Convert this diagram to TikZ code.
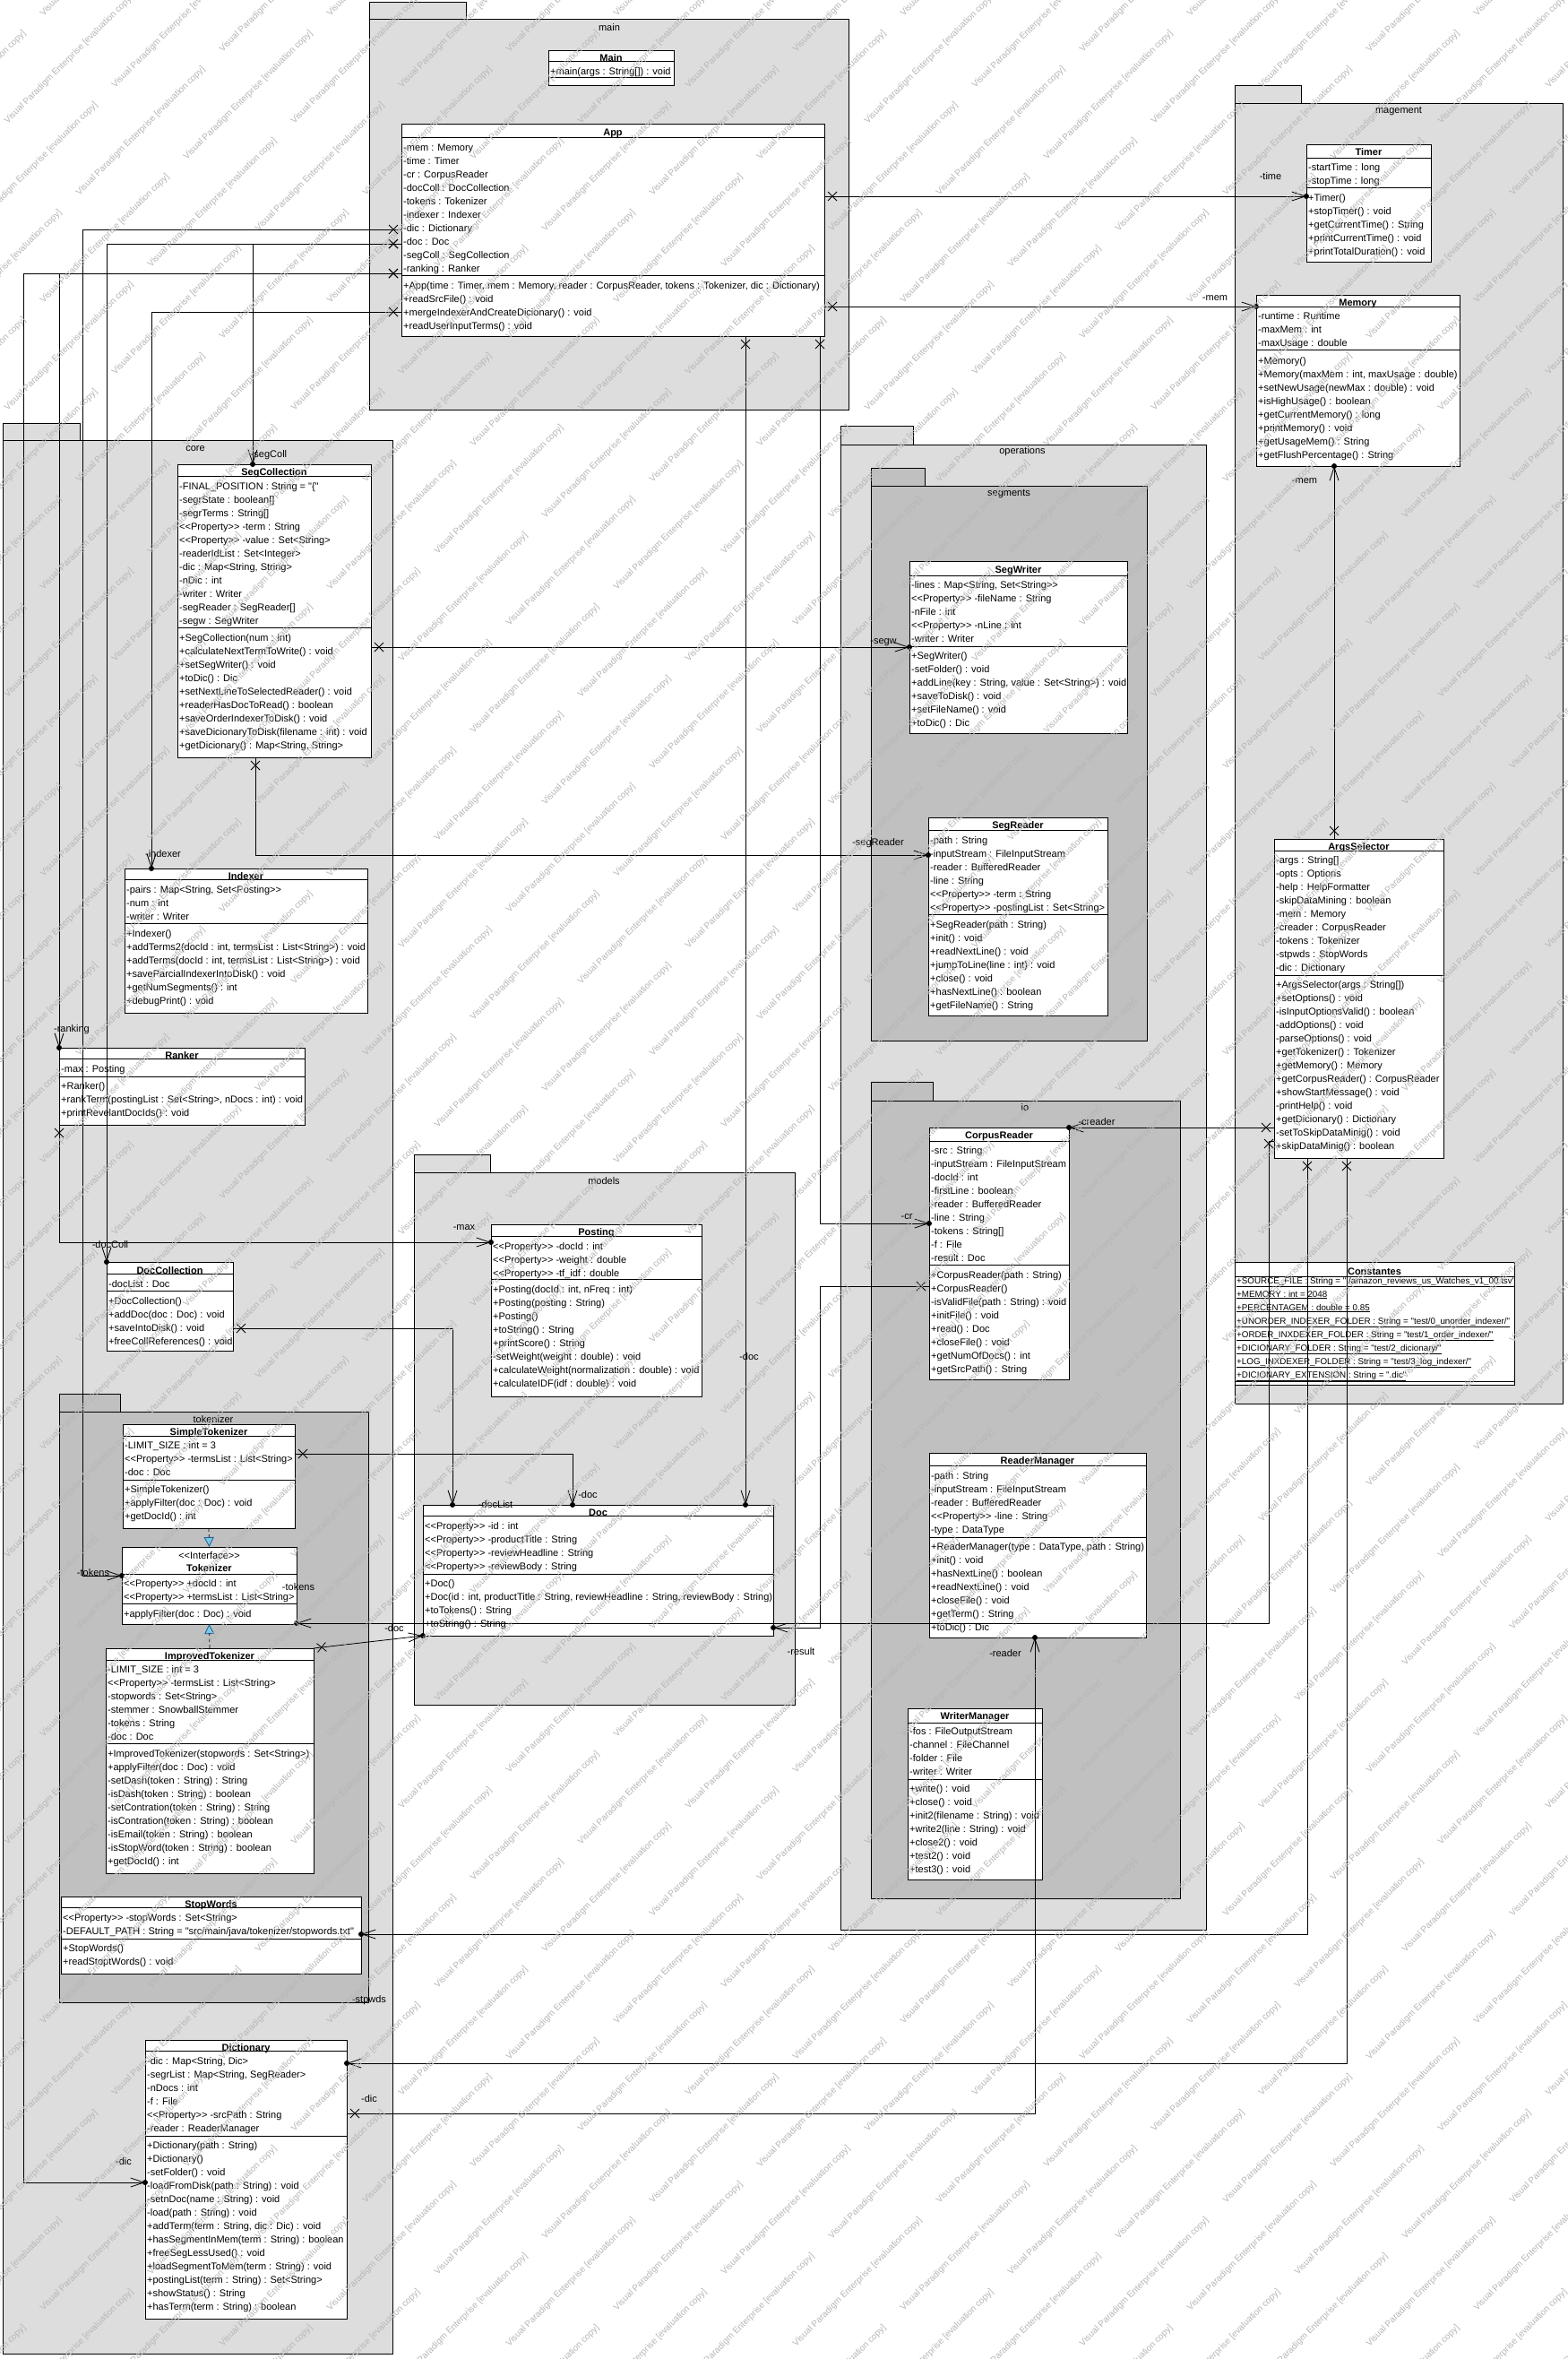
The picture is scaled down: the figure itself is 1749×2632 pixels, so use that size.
\documentclass[tikz,border=0pt]{standalone}
\usepackage{fontspec}
\newfontfamily\umlfont{Liberation Sans}
\usetikzlibrary{arrows.meta,decorations.markings}
\definecolor{pkglight}{RGB}{221,221,221}
\definecolor{pkgdark}{RGB}{192,192,192}
\definecolor{realfill}{RGB}{120,200,230}
\definecolor{realline}{RGB}{30,90,140}
\definecolor{wmark}{RGB}{182,182,182}

% class box: name, x1, y1, x2, y2 (pixel grid, y down)
\newcommand\umlbox[5]{\node[clsbox,minimum width={#4-#2},minimum height={#5-#3}] (#1) at (#2,#3) {};}
% compartment line of a class at height y
\newcommand\cdiv[2]{\draw[boxline] (#1.west |- 0,#2) -- (#1.east |- 0,#2);}
% rows of a compartment: prefix, x, first baseline, list
\newcommand\rowsat[4]{\foreach \t [count=\i] in {#4} {\node[row] (#1\i) at (#2,{#3+15*(\i-1)}) {\t};}}

\begin{document}
\begin{tikzpicture}[x=1pt,y=-1pt,
  clsbox/.style={draw,fill=white,line width=0.8pt,anchor=north west,inner sep=0pt,outer sep=0pt},
  boxline/.style={line width=0.8pt},
  row/.style={anchor=base west,inner sep=0pt,font=\umlfont\fontsize{11}{13}\selectfont},
  ttl/.style={anchor=base,inner sep=0pt,font=\umlfont\bfseries\fontsize{11}{13}\selectfont},
  pkgbox/.style={draw,line width=0.8pt},
  pkgname/.style={inner sep=0pt,font=\umlfont\fontsize{11}{13}\selectfont},
  role/.style={inner sep=0pt,font=\umlfont\fontsize{11}{13}\selectfont},
  assoc/.style={line width=0.8pt,-{Straight Barb[length=15pt,width=10pt]},
    postaction={decorate,decoration={markings,
      mark=at position 9pt with {\draw[line width=0.8pt,-] (-5pt,-5pt) -- (5pt,5pt) (-5pt,5pt) -- (5pt,-5pt);},
      mark=at position -0.01pt with {\fill (0pt,0pt) circle (3pt);}}}},
  realize/.style={line width=0.8pt,dash pattern=on 4pt off 3pt,
    -{Triangle[length=11pt,width=11pt,color=realline,fill=realfill]}},
  wm/.style={anchor=south west,rotate=45,inner sep=0pt,text=wmark,font=\umlfont\fontsize{10}{12}\selectfont}]
  \useasboundingbox (0,0) rectangle (1749,2632);
  \clip (0,0) rectangle (1749,2632);
  \fill[white] (0,0) rectangle (1749,2632);

  % packages
  \draw[pkgbox,fill=pkglight] (412,2) rectangle (520,21) (412,21) rectangle (947,457);
  \node[pkgname] (pMain) at (680,31) {main};
  \draw[pkgbox,fill=pkglight] (1378,95) rectangle (1452,115) (1378,115) rectangle (1744,1566);
  \node[pkgname] (pMgmt) at (1561,124) {magement};
  \draw[pkgbox,fill=pkglight] (3,472) rectangle (89,491) (3,491) rectangle (438,2626);
  \node[pkgname] (pCore) at (218,501) {core};
  \draw[pkgbox,fill=pkglight] (938,475) rectangle (1019,496) (938,496) rectangle (1346,2153);
  \node[pkgname] (pOps) at (1141,504) {operations};
  \draw[pkgbox,fill=pkgdark] (972,522) rectangle (1032,542) (972,542) rectangle (1280,1161);
  \node[pkgname] (pSeg) at (1126,551) {segments};
  \draw[pkgbox,fill=pkgdark] (972,1207) rectangle (1041,1228) (972,1228) rectangle (1317,2118);
  \node[pkgname] (pIo) at (1144,1236) {io};
  \draw[pkgbox,fill=pkglight] (462,1288) rectangle (547,1308) (462,1308) rectangle (887,1902);
  \node[pkgname] (pModels) at (674,1318) {models};
  \draw[pkgbox,fill=pkgdark] (66,1555) rectangle (134,1575) (66,1575) rectangle (411,2234);
  \node[pkgname] (pTok) at (238,1584) {tokenizer};

  % main
  \umlbox{Main}{612}{56}{752}{95}
  \node[ttl] (Main-t) at (Main.north |- 0,68) {Main};
  \cdiv{Main}{68}
  \rowsat{Main-m}{614}{83}{{\underline{+main(args : String[]) : void}}}

  \umlbox{App}{448}{138}{920}{375}
  \node[ttl] (App-t) at (App.north |- 0,151) {App};
  \cdiv{App}{153} \cdiv{App}{307}
  \rowsat{App-a}{450}{168}{-mem : Memory, -time : Timer, -cr : CorpusReader, -docColl : DocCollection,
    -tokens : Tokenizer, -indexer : Indexer, -dic : Dictionary, -doc : Doc, -segColl : SegCollection, -ranking : Ranker}
  \rowsat{App-m}{450}{322}{{+App(time : Timer, mem : Memory, reader : CorpusReader, tokens : Tokenizer, dic : Dictionary)},
    +readSrcFile() : void, +mergeIndexerAndCreateDicionary() : void, +readUserInputTerms() : void}

  % management
  \umlbox{Timer}{1458}{161}{1597}{292}
  \node[ttl] (Timer-t) at (Timer.north |- 0,173) {Timer};
  \cdiv{Timer}{176} \cdiv{Timer}{209}
  \rowsat{Timer-a}{1460}{190}{-startTime : long, -stopTime : long}
  \rowsat{Timer-m}{1460}{224}{+Timer(), +stopTimer() : void, +getCurrentTime() : String, +printCurrentTime() : void,
    +printTotalDuration() : void}

  \umlbox{Memory}{1402}{329}{1629}{520}
  \node[ttl] (Memory-t) at (Memory.north |- 0,341) {Memory};
  \cdiv{Memory}{342} \cdiv{Memory}{390}
  \rowsat{Memory-a}{1404}{356}{-runtime : Runtime, -maxMem : int, -maxUsage : double}
  \rowsat{Memory-m}{1404}{406}{+Memory(), {+Memory(maxMem : int, maxUsage : double)}, +setNewUsage(newMax : double) : void,
    +isHighUsage() : boolean, +getCurrentMemory() : long, +printMemory() : void, +getUsageMem() : String,
    +getFlushPercentage() : String}

  \umlbox{ArgsSelector}{1422}{936}{1611}{1292}
  \node[ttl] (ArgsSelector-t) at (ArgsSelector.north |- 0,948) {ArgsSelector};
  \cdiv{ArgsSelector}{949} \cdiv{ArgsSelector}{1088}
  \rowsat{ArgsSelector-a}{1424}{963}{-args : String[], -opts : Options, -help : HelpFormatter, -skipDataMining : boolean,
    -mem : Memory, -creader : CorpusReader, -tokens : Tokenizer, -stpwds : StopWords, -dic : Dictionary}
  \rowsat{ArgsSelector-m}{1424}{1102}{+ArgsSelector(args : String[]), +setOptions() : void, -isInputOptionsValid() : boolean,
    -addOptions() : void, -parseOptions() : void, +getTokenizer() : Tokenizer, +getMemory() : Memory,
    +getCorpusReader() : CorpusReader, +showStartMessage() : void, -printHelp() : void, +getDicionary() : Dictionary,
    -setToSkipDataMinig() : void, +skipDataMinig() : boolean}

  \umlbox{Constantes}{1378}{1408}{1690}{1545}
  \node[ttl] (Constantes-t) at (Constantes.north |- 0,1422) {Constantes};
  \cdiv{Constantes}{1424} \cdiv{Constantes}{1541}
  \begin{scope}[row/.append style={font=\umlfont\fontsize{9.8}{12}\selectfont}]
  \rowsat{Constantes-a}{1380}{1432}{{\underline{+SOURCE\_FILE : String = "./amazon\_reviews\_us\_Watches\_v1\_00.tsv"}},
    {\underline{+MEMORY : int = 2048}}, {\underline{+PERCENTAGEM : double = 0.85}},
    {\underline{+UNORDER\_INDEXER\_FOLDER : String = "test/0\_unorder\_indexer/"}},
    {\underline{+ORDER\_INXDEXER\_FOLDER : String = "test/1\_order\_indexer/"}},
    {\underline{+DICIONARY\_FOLDER : String = "test/2\_dicionary/"}},
    {\underline{+LOG\_INXDEXER\_FOLDER : String = "test/3\_log\_indexer/"}},
    {\underline{+DICIONARY\_EXTENSION : String = ".dic"}}}
  \end{scope}

  % core
  \umlbox{SegCollection}{198}{518}{414}{845}
  \node[ttl] (SegCollection-t) at (SegCollection.north |- 0,530) {SegCollection};
  \cdiv{SegCollection}{531} \cdiv{SegCollection}{700}
  \rowsat{SegCollection-a}{200}{546}{-FINAL\_POSITION : String = "\{", -segrState : boolean[], -segrTerms : String[],
    <<Property>> -term : String, <<Property>> -value : Set<String>, -readerIdList : Set<Integer>,
    {-dic : Map<String, String>}, -nDic : int, -writer : Writer, -segReader : SegReader[], -segw : SegWriter}
  \rowsat{SegCollection-m}{200}{715}{+SegCollection(num : int), +calculateNextTermToWrite() : void, +setSegWriter() : void,
    +toDic() : Dic, +setNextLineToSelectedReader() : void, +readerHasDocToRead() : boolean,
    +saveOrderIndexerToDisk() : void, +saveDicionaryToDisk(filename : int) : void, {+getDicionary() : Map<String, String>}}

  \umlbox{Indexer}{139}{969}{410}{1130}
  \node[ttl] (Indexer-t) at (Indexer.north |- 0,981) {Indexer};
  \cdiv{Indexer}{981} \cdiv{Indexer}{1030}
  \rowsat{Indexer-a}{141}{996}{{-pairs : Map<String, Set<Posting>>}, -num : int, -writer : Writer}
  \rowsat{Indexer-m}{141}{1045}{+Indexer(), {+addTerms2(docId : int, termsList : List<String>) : void},
    {+addTerms(docId : int, termsList : List<String>) : void}, +saveParcialIndexerIntoDisk() : void,
    +getNumSegments() : int, +debugPrint() : void}

  \umlbox{Ranker}{66}{1169}{340}{1255}
  \node[ttl] (Ranker-t) at (Ranker.north |- 0,1181) {Ranker};
  \cdiv{Ranker}{1181} \cdiv{Ranker}{1201}
  \rowsat{Ranker-a}{68}{1196}{-max : Posting}
  \rowsat{Ranker-m}{68}{1215}{+Ranker(), {+rankTerm(postingList : Set<String>, nDocs : int) : void},
    +printRevelantDocIds() : void}

  \umlbox{DocCollection}{119}{1408}{260}{1507}
  \node[ttl] (DocCollection-t) at (DocCollection.north |- 0,1421) {DocCollection};
  \cdiv{DocCollection}{1421} \cdiv{DocCollection}{1440}
  \rowsat{DocCollection-a}{121}{1436}{-docList : Doc}
  \rowsat{DocCollection-m}{121}{1455}{+DocCollection(), +addDoc(doc : Doc) : void, +saveIntoDisk() : void,
    +freeCollReferences() : void}

  % tokenizer
  \umlbox{SimpleTokenizer}{137}{1589}{329}{1705}
  \node[ttl] (SimpleTokenizer-t) at (SimpleTokenizer.north |- 0,1601) {SimpleTokenizer};
  \cdiv{SimpleTokenizer}{1602} \cdiv{SimpleTokenizer}{1651}
  \rowsat{SimpleTokenizer-a}{139}{1616}{-LIMIT\_SIZE : int = 3, <<Property>> -termsList : List<String>, -doc : Doc}
  \rowsat{SimpleTokenizer-m}{139}{1665}{+SimpleTokenizer(), +applyFilter(doc : Doc) : void, +getDocId() : int}

  \umlbox{Tokenizer}{136}{1726}{331}{1812}
  \node[row,anchor=base] (Tokenizer-s) at (Tokenizer.north |- 0,1739) {<<Interface>>};
  \node[ttl] (Tokenizer-t) at (Tokenizer.north |- 0,1753) {Tokenizer};
  \cdiv{Tokenizer}{1756} \cdiv{Tokenizer}{1789}
  \rowsat{Tokenizer-a}{138}{1770}{<<Property>> +docId : int, <<Property>> +termsList : List<String>}
  \rowsat{Tokenizer-m}{138}{1804}{+applyFilter(doc : Doc) : void}

  \umlbox{ImprovedTokenizer}{118}{1839}{350}{2090}
  \node[ttl] (ImprovedTokenizer-t) at (ImprovedTokenizer.north |- 0,1851) {ImprovedTokenizer};
  \cdiv{ImprovedTokenizer}{1852} \cdiv{ImprovedTokenizer}{1945}
  \rowsat{ImprovedTokenizer-a}{120}{1866}{-LIMIT\_SIZE : int = 3, <<Property>> -termsList : List<String>,
    -stopwords : Set<String>, -stemmer : SnowballStemmer, -tokens : String, -doc : Doc}
  \rowsat{ImprovedTokenizer-m}{120}{1960}{+ImprovedTokenizer(stopwords : Set<String>), +applyFilter(doc : Doc) : void,
    -setDash(token : String) : String, -isDash(token : String) : boolean, -setContration(token : String) : String,
    -isContration(token : String) : boolean, -isEmail(token : String) : boolean,
    -isStopWord(token : String) : boolean, +getDocId() : int}

  \umlbox{StopWords}{68}{2116}{403}{2202}
  \node[ttl] (StopWords-t) at (StopWords.north |- 0,2128) {StopWords};
  \cdiv{StopWords}{2128} \cdiv{StopWords}{2163}
  \rowsat{StopWords-a}{70}{2143}{<<Property>> -stopWords : Set<String>,
    {-DEFAULT\_PATH : String = "src/main/java/tokenizer/stopwords.txt"}}
  \rowsat{StopWords-m}{70}{2177}{+StopWords(), +readStoptWords() : void}

  \umlbox{Dictionary}{162}{2276}{387}{2587}
  \node[ttl] (Dictionary-t) at (Dictionary.north |- 0,2288) {Dictionary};
  \cdiv{Dictionary}{2288} \cdiv{Dictionary}{2383}
  \rowsat{Dictionary-a}{164}{2303}{{-dic : Map<String, Dic>}, {-segrList : Map<String, SegReader>}, -nDocs : int,
    -f : File, <<Property>> -srcPath : String, -reader : ReaderManager}
  \rowsat{Dictionary-m}{164}{2397}{+Dictionary(path : String), +Dictionary(), -setFolder() : void,
    -loadFromDisk(path : String) : void, -setnDoc(name : String) : void, -load(path : String) : void,
    {+addTerm(term : String, dic : Dic) : void}, +hasSegmentInMem(term : String) : boolean, +freeSegLessUsed() : void,
    +loadSegmentToMem(term : String) : void, +postingList(term : String) : Set<String>, +showStatus() : String,
    +hasTerm(term : String) : boolean}

  % operations / segments
  \umlbox{SegWriter}{1015}{626}{1258}{818}
  \node[ttl] (SegWriter-t) at (SegWriter.north |- 0,639) {SegWriter};
  \cdiv{SegWriter}{642} \cdiv{SegWriter}{721}
  \rowsat{SegWriter-a}{1017}{656}{{-lines : Map<String, Set<String>>}, <<Property>> -fileName : String, -nFile : int,
    <<Property>> -nLine : int, -writer : Writer}
  \rowsat{SegWriter-m}{1017}{735}{+SegWriter(), -setFolder() : void, {+addLine(key : String, value : Set<String>) : void},
    +saveToDisk() : void, +setFileName() : void, +toDic() : Dic}

  \umlbox{SegReader}{1036}{912}{1236}{1133}
  \node[ttl] (SegReader-t) at (SegReader.north |- 0,924) {SegReader};
  \cdiv{SegReader}{926} \cdiv{SegReader}{1020}
  \rowsat{SegReader-a}{1038}{941}{-path : String, -inputStream : FileInputStream, -reader : BufferedReader,
    -line : String, <<Property>> -term : String, <<Property>> -postingList : Set<String>}
  \rowsat{SegReader-m}{1038}{1035}{+SegReader(path : String), +init() : void, +readNextLine() : void,
    +jumpToLine(line : int) : void, +close() : void, +hasNextLine() : boolean, +getFileName() : String}

  % operations / io
  \umlbox{CorpusReader}{1037}{1258}{1193}{1539}
  \node[ttl] (CorpusReader-t) at (CorpusReader.north |- 0,1270) {CorpusReader};
  \cdiv{CorpusReader}{1273} \cdiv{CorpusReader}{1411}
  \rowsat{CorpusReader-a}{1039}{1287}{-src : String, -inputStream : FileInputStream, -docId : int, -firstLine : boolean,
    -reader : BufferedReader, -line : String, -tokens : String[], -f : File, -result : Doc}
  \rowsat{CorpusReader-m}{1039}{1426}{+CorpusReader(path : String), +CorpusReader(), -isValidFile(path : String) : void,
    +initFile() : void, +read() : Doc, +closeFile() : void, +getNumOfDocs() : int, +getSrcPath() : String}

  \umlbox{ReaderManager}{1037}{1621}{1279}{1827}
  \node[ttl] (ReaderManager-t) at (ReaderManager.north |- 0,1633) {ReaderManager};
  \cdiv{ReaderManager}{1635} \cdiv{ReaderManager}{1715}
  \rowsat{ReaderManager-a}{1039}{1650}{-path : String, -inputStream : FileInputStream, -reader : BufferedReader,
    <<Property>> -line : String, -type : DataType}
  \rowsat{ReaderManager-m}{1039}{1729}{{+ReaderManager(type : DataType, path : String)}, +init() : void,
    +hasNextLine() : boolean, +readNextLine() : void, +closeFile() : void, +getTerm() : String, +toDic() : Dic}

  \umlbox{WriterManager}{1013}{1906}{1163}{2097}
  \node[ttl] (WriterManager-t) at (WriterManager.north |- 0,1918) {WriterManager};
  \cdiv{WriterManager}{1922} \cdiv{WriterManager}{1985}
  \rowsat{WriterManager-a}{1015}{1935}{-fos : FileOutputStream, -channel : FileChannel, -folder : File, -writer : Writer}
  \rowsat{WriterManager-m}{1015}{1999}{+write() : void, +close() : void, +init2(filename : String) : void,
    +write2(line : String) : void, +close2() : void, +test2() : void, +test3() : void}

  % models
  \umlbox{Posting}{548}{1366}{783}{1558}
  \node[ttl] (Posting-t) at (Posting.north |- 0,1378) {Posting};
  \cdiv{Posting}{1379} \cdiv{Posting}{1427}
  \rowsat{Posting-a}{550}{1394}{<<Property>> -docId : int, <<Property>> -weight : double, <<Property>> -tf\_idf : double}
  \rowsat{Posting-m}{550}{1442}{{+Posting(docId : int, nFreq : int)}, +Posting(posting : String), +Posting(),
    +toString() : String, +printScore() : String, -setWeight(weight : double) : void,
    +calculateWeight(normalization : double) : void, +calculateIDF(idf : double) : void}

  \umlbox{Doc}{472}{1679}{863}{1825}
  \node[ttl] (Doc-t) at (Doc.north |- 0,1691) {Doc};
  \cdiv{Doc}{1691} \cdiv{Doc}{1756}
  \rowsat{Doc-a}{474}{1706}{<<Property>> -id : int, <<Property>> -productTitle : String,
    <<Property>> -reviewHeadline : String, <<Property>> -reviewBody : String}
  \rowsat{Doc-m}{474}{1770}{+Doc(), {+Doc(id : int, productTitle : String, reviewHeadline : String, reviewBody : String)},
    +toTokens() : String, +toString() : String}

  % associations (X at owner, open arrow + dot at target)
  \draw[assoc] (App.east |- 0,219) -- (Timer.west |- 0,219);
  \draw[assoc] (App.east |- 0,342) -- (Memory.west |- 0,342);
  \draw[assoc] (App.west |- 0,256) -| (92,1758) -- (Tokenizer.west |- 0,1758);
  \draw[assoc] (App.west |- 0,272) -| (DocCollection.north west);
  \draw[assoc] (App.west |- 0,272) -| ([xshift=84pt]SegCollection.north west);
  \draw[assoc] (App.west |- 0,305) -| (26,2435) -- (Dictionary.west |- 0,2435);
  \draw[assoc] (App.west |- 0,305) -| (Ranker.north west);
  \draw[assoc] (App.west |- 0,348) -| ([xshift=30pt]Indexer.north west);
  \draw[assoc] ([xshift=384pt]App.south west) -- ([xshift=360pt]Doc.north west);
  \draw[assoc] ([xshift=467pt]App.south west) |- (CorpusReader.west |- 0,1365);
  \draw[assoc] (SegCollection.east |- 0,722) -- (SegWriter.west |- 0,722);
  \draw[assoc] ([xshift=87pt]SegCollection.south west) |- (SegReader.west |- 0,954);
  \draw[assoc] ([xshift=67pt]ArgsSelector.north west) -- ([xshift=87pt]Memory.south west);
  \draw[assoc] (ArgsSelector.west |- 0,1258) -- (CorpusReader.north east);
  \draw[assoc] (ArgsSelector.west |- 0,1273) -| (1416,1811) -- (Tokenizer.east |- 0,1811);
  \draw[assoc] ([xshift=37pt]ArgsSelector.south west) |- (StopWords.east |- 0,2158);
  \draw[assoc] ([xshift=81pt]ArgsSelector.south west) |- (Dictionary.east |- 0,2302);
  \draw[assoc] (Dictionary.east |- 0,2358) -| ([xshift=118pt]ReaderManager.south west);
  \draw[assoc] (CorpusReader.west |- 0,1435) -| (915,1816) -- (Doc.east |- 0,1816);
  \draw[assoc] (Ranker.south west) |- (Posting.west |- 0,1386);
  \draw[assoc] (DocCollection.east |- 0,1482) -| ([xshift=33pt]Doc.north west);
  \draw[assoc] (SimpleTokenizer.east |- 0,1622) -| ([xshift=167pt]Doc.north west);
  \draw[assoc] (ImprovedTokenizer.north east) -- (Doc.south west);
  % realizations of the interface
  \draw[realize] (SimpleTokenizer.south) -- (Tokenizer.north);
  \draw[realize] (ImprovedTokenizer.north) -- (Tokenizer.south);

  % role names
  \node[role] (rTime) at (1418,197) {-time};
  \node[role] (rMemA) at (1356,333) {-mem};
  \node[role] (rMemB) at (1456,537) {-mem};
  \node[role] (rSegColl) at (300,508) {-segColl};
  \node[role] (rSegw) at (986,717) {-segw};
  \node[role] (rSegReader) at (980,941) {-segReader};
  \node[role] (rIndexer) at (182,953) {-indexer};
  \node[role] (rRanking) at (80,1149) {-ranking};
  \node[role] (rMax) at (518,1370) {-max};
  \node[role] (rDocColl) at (123,1389) {-docColl};
  \node[role] (rDocList) at (553,1679) {-docList};
  \node[role] (rDocA) at (656,1668) {-doc};
  \node[role] (rDocB) at (836,1514) {-doc};
  \node[role] (rDocC) at (440,1817) {-doc};
  \node[role] (rResult) at (894,1843) {-result};
  \node[role] (rCr) at (1012,1358) {-cr};
  \node[role] (rCreader) at (1224,1252) {-creader};
  \node[role] (rReader) at (1122,1845) {-reader};
  \node[role] (rTokA) at (104,1755) {-tokens};
  \node[role] (rTokB) at (333,1771) {-tokens};
  \node[role] (rStpwds) at (412,2232) {-stpwds};
  \node[role] (rDicA) at (412,2342) {-dic};
  \node[role] (rDicB) at (138,2412) {-dic};

  % evaluation watermark
  \foreach \k in {0,...,69} {
    \pgfmathtruncatemacro{\off}{mod(120*\k,320)}
    \foreach \m in {0,...,6} {
      \node[wm] (wm-\k-\m) at ({50-\off+320*\m},{20+40*\k}) {Visual Paradigm Enterprise [evaluation copy]};
    }
  }
\end{tikzpicture}
\end{document}
